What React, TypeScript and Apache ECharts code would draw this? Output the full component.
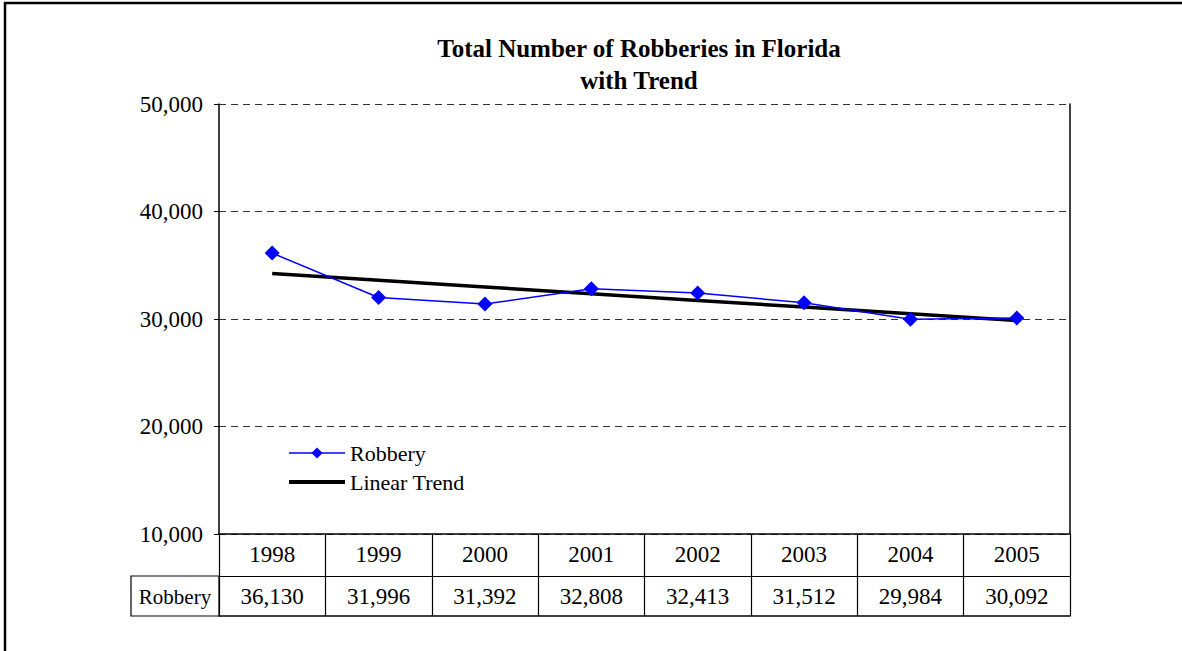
import React, { useEffect, useRef } from "react";
import * as echarts from "echarts";

const years = ["1998", "1999", "2000", "2001", "2002", "2003", "2004", "2005"];
const robbery = [36130, 31996, 31392, 32808, 32413, 31512, 29984, 30092];
const trend = [34223, 33599, 32976, 32353, 31729, 31106, 30483, 29859];
const yTicks = { min: 10000, max: 50000, interval: 10000 };
const seriesNames = ["Robbery", "Linear Trend"];
const titleText = "Total Number of Robberies in Florida\nwith Trend";

const FONT = "'Liberation Serif', 'Times New Roman', serif";
const fmt = (v: number) => v.toLocaleString("en-US");

export default function App() {
  const ref = useRef<HTMLDivElement>(null);
  useEffect(() => {
    if (!ref.current) return;
    const chart = echarts.init(ref.current, null, { renderer: "svg" });
    chart.setOption({
      animation: false,
      backgroundColor: "#fff",
      title: {
        text: titleText,
        left: 634,
        top: 27,
        textAlign: "center",
        textStyle: {
          fontFamily: FONT,
          fontWeight: "bold",
          fontSize: 25,
          lineHeight: 32,
          color: "#000",
        },
      },
      legend: {
        data: [
          { name: seriesNames[0], lineStyle: { width: 1.5 } },
          { name: seriesNames[1], itemStyle: { opacity: 0 }, lineStyle: { width: 4 } },
        ],
        orient: "vertical",
        left: 287,
        top: 442,
        padding: 0,
        itemWidth: 56,
        itemHeight: 14,
        itemGap: 7,
        textStyle: { fontFamily: FONT, fontSize: 22, color: "#000" },
      },
      grid: { left: 219, top: 104, width: 851, height: 430, show: false },
      xAxis: [
        {
          type: "category",
          data: years,
          position: "bottom",
          boundaryGap: true,
          axisLine: { show: true, lineStyle: { color: "#000", width: 1.5 } },
          axisTick: { show: true, length: 82, lineStyle: { color: "#000", width: 1.2 } },
          axisLabel: { fontFamily: FONT, fontSize: 23, color: "#000", margin: 9 },
          splitLine: { show: false },
        },
        {
          type: "category",
          data: robbery.map(fmt),
          position: "bottom",
          offset: 42,
          boundaryGap: true,
          axisLine: { show: true, lineStyle: { color: "#000", width: 1.2 } },
          axisTick: { show: false },
          axisLabel: { fontFamily: FONT, fontSize: 23, color: "#000", margin: 9 },
        },
        {
          type: "category",
          data: years,
          position: "bottom",
          offset: 82,
          boundaryGap: true,
          axisLine: { show: true, lineStyle: { color: "#000", width: 1.5 } },
          axisTick: { show: false },
          axisLabel: { show: false },
        },
      ],
      yAxis: [
        {
          type: "value",
          min: yTicks.min,
          max: yTicks.max,
          interval: yTicks.interval,
          axisLine: { show: true, lineStyle: { color: "#000", width: 1.5 } },
          axisTick: { show: true, length: 5, lineStyle: { color: "#000" } },
          axisLabel: {
            fontFamily: FONT,
            fontSize: 23,
            color: "#000",
            margin: 16,
            formatter: (v: number) => fmt(v),
          },
          splitLine: {
            show: true,
            lineStyle: { color: "#333", type: [7, 5], width: 1 },
          },
        },
        {
          type: "value",
          position: "right",
          min: yTicks.min,
          max: yTicks.max,
          interval: yTicks.interval,
          axisLine: { show: true, lineStyle: { color: "#000", width: 1.5 } },
          axisTick: { show: false },
          axisLabel: { show: false },
          splitLine: { show: false },
        },
      ],
      series: [
        {
          name: seriesNames[0],
          type: "line",
          data: robbery,
          symbol: "diamond",
          symbolSize: 15,
          lineStyle: { color: "#0000FF", width: 1.5 },
          itemStyle: { color: "#0000FF" },
          z: 3,
        },
        {
          name: seriesNames[1],
          type: "line",
          data: trend,
          symbol: "none",
          lineStyle: { color: "#000", width: 3.5 },
          itemStyle: { color: "#000", opacity: 0 },
          z: 2,
        },
      ],
      graphic: [
        {
          type: "rect",
          shape: { x: 5, y: 3, width: 1200, height: 700 },
          style: { fill: "none", stroke: "#000", lineWidth: 2.5 },
          silent: true,
        },
        {
          type: "rect",
          shape: { x: 131, y: 576, width: 88, height: 40 },
          style: { fill: "none", stroke: "#000", lineWidth: 1.2 },
          silent: true,
        },
        {
          type: "text",
          x: 175,
          y: 597,
          style: {
            text: seriesNames[0],
            fontFamily: FONT,
            fontSize: 21,
            fill: "#000",
            align: "center",
            verticalAlign: "middle",
          },
          silent: true,
        },
      ],
    });
    return () => chart.dispose();
  }, []);
  return (
    <div
      ref={ref}
      style={{ position: "absolute", left: 0, top: 0, width: 1182, height: 651 }}
    />
  );
}
